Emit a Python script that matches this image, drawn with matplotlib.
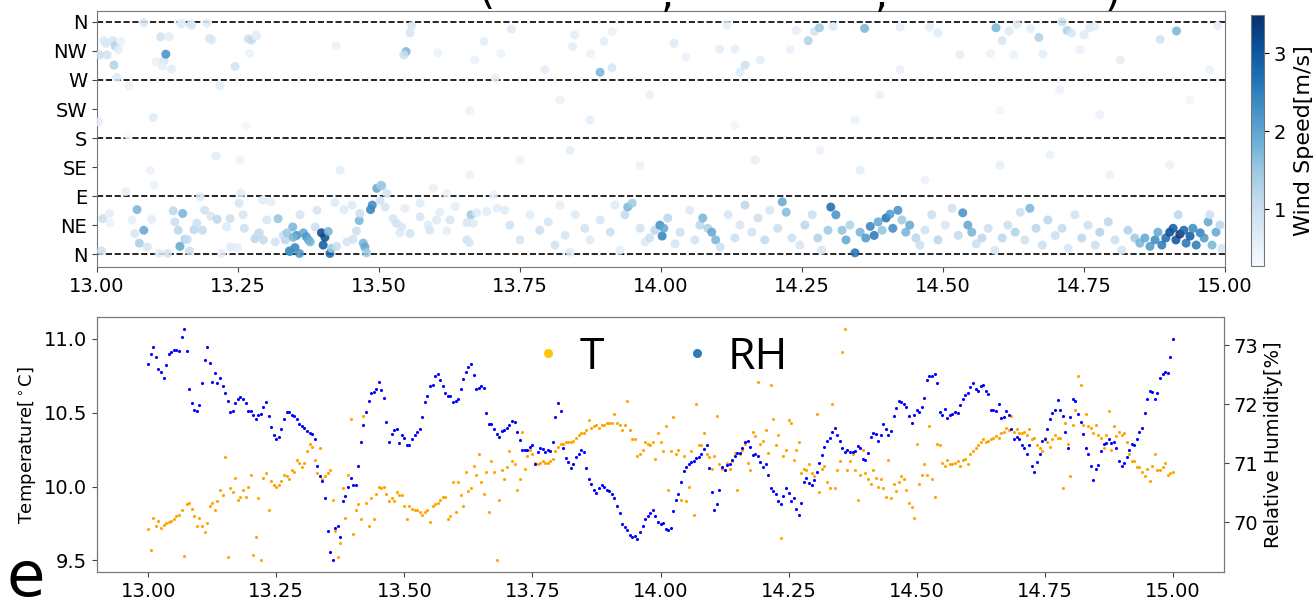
import numpy as np
import matplotlib
matplotlib.use("Agg")
import matplotlib.pyplot as plt
from matplotlib.lines import Line2D
from matplotlib.colors import Normalize
from matplotlib.cm import ScalarMappable
from matplotlib.ticker import FormatStrFormatter

# ---------------- wind data (time [day], direction [deg], speed [m/s]) ----------------
wind_time = [
    13.005, 13.016, 13.018, 13.012, 13.028, 13.032, 13.030, 13.038, 13.035, 13.042,
    13.057, 13.083, 13.100, 13.113, 13.128, 13.105, 13.119, 13.122, 13.116, 13.132,
    13.150, 13.166, 13.195, 13.200, 13.203, 13.218, 13.211, 13.245, 13.268, 13.274,
    13.283, 13.271, 13.264, 13.003, 13.055, 13.094, 13.101, 13.051, 13.010, 13.008,
    13.022, 13.023, 13.062, 13.067, 13.071, 13.075, 13.083, 13.089, 13.097, 13.110,
    13.125, 13.135, 13.138, 13.144, 13.147, 13.152, 13.156, 13.160, 13.164, 13.172,
    13.177, 13.183, 13.187, 13.202, 13.213, 13.221, 13.230, 13.236, 13.237, 13.249,
    13.252, 13.255, 13.261, 13.286, 13.294, 13.301, 13.308, 13.316, 13.321, 13.334,
    13.341, 13.347, 13.351, 13.354, 13.191, 13.259, 13.280, 13.288, 13.295, 13.330,
    13.337, 13.348, 13.360, 13.366, 13.371, 13.375, 13.378, 13.342, 13.359, 13.390,
    13.387, 13.398, 13.404, 13.401, 13.410, 13.413, 13.416, 13.425, 13.422, 13.438,
    13.443, 13.452, 13.454, 13.460, 13.465, 13.466, 13.472, 13.475, 13.478, 13.485,
    13.488, 13.496, 13.503, 13.502, 13.511, 13.514, 13.525, 13.531, 13.537, 13.540,
    13.546, 13.555, 13.573, 13.573, 13.587, 13.590, 13.596, 13.602, 13.608, 13.620,
    13.626, 13.620, 13.635, 13.656, 13.663, 13.667, 13.656, 13.660, 13.673, 13.691,
    13.703, 13.709, 13.149, 13.168, 13.282, 13.424, 13.548, 13.555, 13.558, 13.544,
    13.604, 13.686, 13.716, 13.735, 13.847, 13.899, 13.914, 13.875, 13.843, 14.023,
    14.117, 14.240, 14.272, 14.281, 14.261, 14.305, 14.361, 14.424, 14.476, 14.491,
    14.594, 14.605, 14.617, 14.631, 14.655, 14.670, 14.677, 14.711, 14.720, 14.728,
    14.750, 14.760, 14.769, 14.885, 14.914, 14.987, 14.131, 14.104, 14.584, 14.625,
    14.530, 14.044, 13.670, 13.706, 13.794, 13.892, 13.913, 14.140, 14.149, 14.176,
    14.229, 14.424, 14.743, 14.814, 14.973, 13.661, 13.821, 13.874, 13.980, 14.131,
    14.344, 14.388, 14.601, 14.707, 14.778, 14.938, 13.254, 13.431, 13.505, 13.661,
    13.750, 13.839, 13.963, 14.167, 14.282, 14.353, 14.468, 14.601, 14.690, 14.796, 14.902,
    13.723, 13.732, 13.750, 13.768, 13.785, 13.800, 13.812, 13.821, 13.830, 13.839,
    13.848, 13.865, 13.874, 13.892, 13.910, 13.918, 13.927, 13.936, 13.941, 13.949,
    13.963, 13.972, 13.980, 13.989, 13.998, 14.002, 14.005, 14.012, 14.025, 14.034,
    14.051, 14.060, 14.069, 14.074, 14.083, 14.090, 14.097, 14.105, 14.119, 14.131,
    14.140, 14.149, 14.161, 14.172, 14.184, 14.193, 14.207, 14.215, 14.222, 14.232,
    14.246, 14.255, 14.268, 14.278, 14.285, 14.296, 14.301, 14.310, 14.321, 14.328,
    14.335, 14.344, 14.353, 14.363, 14.371, 14.378, 14.385, 14.392, 14.399, 14.406,
    14.411, 14.420, 14.427, 14.434, 14.441, 14.452, 14.459, 14.468, 14.480, 14.491,
    14.504, 14.516, 14.527, 14.535, 14.544, 14.551, 14.559, 14.569, 14.580, 14.592,
    14.605, 14.615, 14.628, 14.637, 14.645, 14.654, 14.665, 14.676, 14.686, 14.699,
    14.711, 14.722, 14.734, 14.746, 14.757, 14.770, 14.778, 14.793, 14.805, 14.817,
    14.828, 14.840, 14.849, 14.858, 14.867, 14.876, 14.881, 14.888, 14.895, 14.902,
    14.908, 14.913, 14.920, 14.927, 14.931, 14.938, 14.943, 14.949, 14.956, 14.963,
    14.970, 14.977, 14.984, 14.991, 14.995, 14.973, 14.917,
]
wind_dir = [
    309, 327, 309, 331, 331, 323, 293, 317, 274, 330,
    261, 359, 212, 337, 337, 298, 300, 310, 292, 287,
    358, 356, 358, 334, 332, 261, 152, 291, 334, 332,
    338, 311, 199, 205, 185, 130, 107, 97, 55, 5,
    63, 48, 53, 32, 69, 17, 37, 11, 54, 1,
    1, 67, 50, 37, 12, 63, 23, 23, 5, 38,
    48, 89, 37, 59, 54, 1, 42, 55, 11, 10,
    79, 95, 40, 32, 84, 53, 81, 19, 55, 22,
    5, 42, 10, 29, 68, 61, 24, 33, 22, 29,
    33, 26, 61, 33, 27, 22, 19, 4, 1, 68,
    42, 33, 26, 14, 35, 1, 9, 12, 80, 69,
    19, 76, 23, 36, 52, 63, 17, 11, 2, 69,
    76, 102, 107, 83, 73, 94, 55, 48, 33, 42,
    71, 32, 79, 58, 45, 37, 102, 53, 65, 94,
    53, 36, 74, 49, 61, 48, 22, 18, 64, 66,
    92, 71, 357, 355, 340, 323, 314, 343, 354, 309,
    312, 330, 311, 349, 340, 330, 345, 311, 322, 327,
    355, 347, 345, 351, 331, 353, 350, 352, 352, 343,
    351, 331, 346, 356, 350, 336, 310, 360, 347, 343,
    340, 351, 353, 333, 346, 354, 318, 318, 311, 309,
    309, 306, 301, 273, 286, 282, 289, 282, 293, 301,
    317, 286, 317, 301, 286, 223, 239, 208, 247, 200,
    208, 247, 223, 255, 216, 239, 146, 130, 106, 123,
    146, 161, 138, 146, 161, 130, 115, 138, 154, 123, 138,
    68, 45, 22, 61, 37, 50, 14, 76, 29, 3,
    61, 40, 22, 53, 34, 76, 6, 61, 73, 79,
    40, 19, 25, 37, 45, 28, 40, 56, 16, 34,
    68, 22, 45, 56, 40, 34, 22, 11, 61, 25,
    45, 76, 34, 56, 22, 68, 40, 81, 65, 25,
    14, 45, 61, 25, 6, 37, 73, 61, 37, 22,
    45, 2, 34, 25, 43, 29, 50, 37, 56, 62,
    40, 68, 53, 34, 45, 25, 14, 37, 61, 22,
    45, 71, 29, 64, 45, 34, 16, 25, 40, 6,
    25, 45, 34, 65, 22, 71, 40, 14, 53, 29,
    40, 9, 61, 25, 45, 14, 34, 50, 22, 6,
    37, 25, 17, 25, 12, 22, 34, 14, 25, 34,
    40, 22, 31, 37, 17, 28, 40, 14, 33, 25,
    50, 14, 34, 45, 9, 61, 61,
]
wind_speed = [
    1.0, 0.8, 0.9, 0.7, 0.8, 1.3, 1.3, 0.6, 0.7, 0.5,
    0.5, 0.8, 0.7, 0.9, 0.6, 0.5, 0.8, 2.3, 0.6, 0.6,
    0.8, 0.9, 0.6, 0.9, 0.7, 0.6, 0.6, 0.9, 0.9, 1.1,
    0.6, 0.5, 0.4, 0.6, 0.27, 0.5, 0.5, 0.6, 1.0, 1.0,
    0.6, 0.5, 0.6, 0.8, 1.8, 1.4, 2.0, 0.8, 0.6, 0.7,
    0.8, 1.2, 1.0, 1.2, 2.0, 1.8, 1.3, 1.0, 1.0, 1.2,
    1.0, 0.7, 1.1, 0.8, 1.2, 0.6, 0.7, 1.0, 0.7, 0.6,
    0.8, 0.6, 1.0, 1.0, 0.7, 0.8, 0.6, 0.9, 1.6, 1.2,
    2.2, 1.8, 2.5, 2.3, 0.9, 0.8, 1.2, 1.0, 1.1, 1.0,
    1.5, 1.8, 0.8, 2.0, 2.2, 2.0, 1.8, 2.3, 2.2, 0.8,
    1.0, 3.3, 3.2, 3.0, 1.8, 2.8, 1.5, 1.0, 0.7, 0.7,
    0.8, 0.7, 0.9, 1.0, 1.8, 1.0, 1.8, 2.0, 1.5, 2.5,
    2.4, 2.0, 1.3, 0.9, 0.8, 0.8, 0.8, 0.9, 0.7, 0.8,
    0.6, 0.9, 0.7, 0.8, 0.7, 0.8, 0.5, 0.7, 0.6, 0.5,
    0.8, 0.6, 0.6, 0.8, 1.5, 0.7, 0.9, 0.8, 0.7, 0.6,
    0.5, 0.6, 0.6, 0.7, 0.6, 0.5, 1.8, 0.8, 0.8, 1.0,
    0.5, 0.6, 0.5, 0.7, 0.6, 0.6, 0.5, 0.5, 0.6, 0.7,
    0.6, 0.6, 0.9, 1.5, 1.3, 0.7, 1.8, 0.6, 0.6, 0.7,
    1.8, 0.8, 0.7, 0.7, 0.6, 1.3, 0.6, 1.0, 1.3, 0.8,
    0.7, 0.7, 0.6, 0.9, 1.8, 0.6, 0.6, 0.6, 0.5, 0.5,
    0.6, 0.5, 0.5, 0.6, 0.6, 1.8, 0.8, 0.7, 1.0, 0.6,
    0.5, 0.5, 0.5, 0.6, 0.5, 0.5, 0.5, 0.6, 0.5, 0.4,
    0.5, 0.5, 0.4, 0.5, 0.5, 0.4, 0.5, 0.6, 1.5, 0.5,
    0.5, 0.6, 0.5, 0.6, 0.5, 0.6, 0.5, 0.6, 0.5, 0.5, 0.5,
    0.7, 0.9, 0.8, 0.6, 1.0, 0.8, 0.9, 0.6, 0.8, 0.7,
    0.7, 0.9, 0.7, 0.8, 1.0, 0.7, 0.6, 1.1, 1.8, 1.5,
    0.9, 0.7, 1.0, 1.2, 2.3, 2.5, 2.0, 1.2, 0.8, 1.0,
    0.7, 0.9, 1.2, 1.8, 1.3, 2.0, 1.8, 1.0, 0.8, 1.0,
    0.8, 1.2, 0.9, 1.0, 1.1, 0.8, 1.0, 2.0, 1.7, 1.0,
    0.8, 1.2, 1.0, 1.3, 0.8, 1.5, 2.8, 2.3, 1.6, 2.0,
    1.3, 2.7, 1.8, 2.2, 2.5, 2.6, 2.0, 1.6, 2.7, 2.2,
    2.4, 2.3, 1.5, 1.8, 2.0, 1.2, 1.0, 0.9, 1.0, 1.2,
    0.8, 0.9, 1.1, 2.3, 2.0, 1.8, 1.0, 1.2, 1.0, 0.8,
    1.2, 1.0, 1.3, 1.0, 0.9, 1.8, 1.2, 1.0, 1.2, 1.0,
    1.1, 0.8, 0.9, 1.2, 1.0, 1.0, 1.3, 1.2, 1.0, 0.9,
    1.3, 1.5, 1.8, 2.0, 2.2, 2.4, 2.0, 2.6, 2.8, 3.2,
    3.0, 3.1, 3.49, 2.9, 2.7, 3.0, 2.4, 2.6, 2.5, 2.2,
    2.0, 1.8, 2.0, 1.2, 0.8, 1.0, 1.2,
]
assert len(wind_time) == len(wind_dir) == len(wind_speed)

dir_ticks = [0, 45, 90, 135, 180, 225, 270, 315, 360]
dir_labels = ["N", "NE", "E", "SE", "S", "SW", "W", "NW", "N"]
dir_lines = [0, 90, 180, 270, 360]
time_ticks = [13.00, 13.25, 13.50, 13.75, 14.00, 14.25, 14.50, 14.75, 15.00]

# ---------------- T / RH series (sampled every 0.005 day from 13.000) ----------------
series_start = 13.0
series_step = 0.005
rh_values = [
    72.68, 72.85, 72.97, 72.80, 72.60, 72.55, 72.44, 72.66, 72.85, 72.89, 72.92, 72.92, 72.90, 73.13, 73.28, 72.90, 72.25, 72.02, 71.90, 71.88,
    71.99, 72.36, 72.75, 72.96, 72.70, 72.38, 72.53, 72.35, 72.45, 72.30, 72.18, 72.05, 71.86, 71.88, 72.02, 72.08, 72.12, 72.08, 72.02, 71.88,
    71.88, 71.82, 71.75, 71.82, 71.84, 71.95, 72.03, 71.80, 71.62, 71.48, 71.40, 71.45, 71.58, 71.74, 71.87, 71.86, 71.82, 71.80, 71.74, 71.67,
    71.63, 71.60, 71.54, 71.51, 71.50, 71.40, 70.95, 70.78, 70.70, 70.40, 69.85, 69.50, 69.35, 69.90, 69.94, 69.75, 70.35, 70.45, 70.60, 70.75,
    70.62, 70.63, 70.95, 71.35, 71.65, 71.86, 72.05, 72.18, 72.20, 72.25, 72.37, 72.24, 72.10, 71.70, 71.36, 71.50, 71.56, 71.58, 71.34, 71.47,
    71.42, 71.30, 71.31, 71.40, 71.48, 71.52, 71.57, 71.78, 72.03, 72.13, 72.30, 72.32, 72.48, 72.51, 72.40, 72.30, 72.18, 72.14, 72.13, 72.04,
    72.05, 72.08, 72.25, 72.42, 72.55, 72.63, 72.68, 72.50, 72.25, 72.28, 72.31, 72.28, 71.85, 71.66, 71.66, 71.58, 71.49, 71.44, 71.55, 71.56,
    71.60, 71.64, 71.71, 71.70, 71.53, 71.39, 71.23, 71.22, 71.22, 71.28, 71.31, 70.99, 71.18, 71.26, 71.24, 71.19, 71.22, 71.21, 71.36, 71.78,
    72.02, 71.88, 71.25, 71.08, 71.02, 70.92, 70.98, 71.10, 71.16, 71.23, 71.19, 70.92, 70.73, 70.64, 70.55, 70.50, 70.58, 70.62, 70.59, 70.55,
    70.52, 70.47, 70.40, 70.27, 70.16, 69.97, 69.92, 69.86, 69.78, 69.74, 69.76, 69.72, 69.84, 69.93, 70.05, 70.10, 70.15, 70.21, 70.10, 70.00,
    69.96, 69.98, 69.88, 69.86, 69.90, 70.19, 70.37, 70.48, 70.68, 70.87, 70.93, 70.99, 71.02, 71.04, 71.08, 71.11, 71.16, 71.24, 71.30, 70.91,
    70.51, 70.21, 70.30, 70.55, 70.93, 70.89, 70.96, 70.99, 71.06, 71.12, 71.17, 71.17, 71.25, 71.35, 71.38, 71.28, 71.14, 71.15, 71.12, 71.02,
    70.94, 70.98, 70.80, 70.58, 70.53, 70.48, 70.36, 70.30, 70.44, 70.58, 70.50, 70.35, 70.40, 70.22, 70.12, 70.33, 70.68, 70.74, 70.66, 70.63,
    70.72, 70.85, 71.00, 71.14, 71.28, 71.37, 71.42, 71.52, 71.60, 71.48, 71.38, 71.26, 71.18, 71.22, 71.19, 71.18, 71.21, 71.29, 71.26, 71.07,
    71.05, 71.17, 71.45, 71.51, 71.49, 71.38, 71.48, 71.67, 71.58, 71.47, 71.55, 71.80, 71.94, 72.05, 72.04, 72.01, 71.95, 71.80, 71.68, 71.82,
    71.90, 71.86, 71.95, 72.10, 72.40, 72.48, 72.48, 72.51, 72.36, 71.87, 71.82, 71.91, 71.76, 71.82, 71.84, 71.87, 71.85, 71.98, 72.09, 72.16,
    72.18, 72.29, 72.35, 72.25, 72.22, 72.30, 72.32, 72.22, 72.17, 71.90, 71.90, 71.89, 72.01, 71.76, 71.78, 71.88, 71.82, 71.58, 71.41, 71.45,
    71.40, 71.31, 71.25, 71.16, 71.31, 70.95, 70.85, 71.02, 71.15, 71.37, 71.40, 71.57, 71.75, 71.85, 71.90, 72.07, 71.90, 71.80, 71.52, 71.26,
    71.78, 72.08, 72.05, 71.83, 71.69, 71.50, 71.25, 71.15, 70.95, 70.72, 70.90, 70.96, 71.20, 71.32, 71.34, 71.40, 71.34, 71.36, 71.25, 71.04,
    70.95, 71.00, 71.10, 71.22, 71.33, 71.31, 71.40, 71.53, 71.60, 71.85, 72.08, 72.23, 72.20, 72.08, 72.19, 72.44, 72.51, 72.55, 72.52, 72.80,
    73.10,
]
temp_values = [
    9.71, 9.57, 9.79, 9.73, 9.77, 9.72, 9.74, 9.75, 9.76, 9.77, 9.78, 9.80, 9.81, 9.84, 9.53, 9.88, 9.89, 9.85, 9.80, 9.73,
    9.79, 9.73, 9.69, 9.75, 9.87, 9.89, 9.84, 9.90, 9.98, 9.94, 10.20, 9.52, 9.99, 9.96, 10.06, 9.91, 9.93, 9.98, 9.93, 10.00,
    10.08, 9.54, 9.66, 9.92, 9.50, 10.06, 10.09, 9.84, 10.04, 10.01, 10.00, 10.01, 10.04, 10.08, 10.07, 10.05, 10.11, 10.10, 10.18, 10.16,
    10.13, 10.16, 10.24, 10.29, 10.27, 10.18, 10.09, 10.26, 10.05, 10.07, 10.09, 10.11, 9.91, 9.70, 9.52, 9.62, 9.99, 9.79, 10.08, 10.46,
    9.68, 9.84, 9.88, 9.78, 10.48, 9.89, 9.73, 9.92, 9.78, 9.95, 10.00, 9.99, 10.00, 9.95, 9.90, 9.92, 9.90, 9.96, 9.94, 9.94,
    9.87, 9.78, 9.87, 9.85, 9.84, 9.84, 9.83, 9.81, 9.83, 9.84, 9.76, 9.87, 9.88, 9.89, 9.91, 9.93, 9.93, 9.78, 9.80, 10.03,
    9.83, 10.03, 9.94, 9.87, 10.10, 9.97, 9.99, 10.14, 10.08, 10.22, 10.03, 9.95, 10.10, 9.83, 10.17, 10.10, 9.50, 9.91, 10.11, 10.05,
    10.13, 10.24, 10.17, 10.15, 9.98, 10.05, 10.37, 10.12, 10.21, 10.25, 10.22, 10.16, 10.15, 10.16, 10.17, 10.16, 10.16, 10.17, 10.19, 10.24,
    10.27, 10.29, 10.29, 10.30, 10.30, 10.30, 10.31, 10.33, 10.35, 10.36, 10.36, 10.38, 10.45, 10.40, 10.41, 10.42, 10.40, 10.42, 10.42, 10.43,
    10.43, 10.43, 10.49, 10.43, 10.42, 10.38, 10.42, 10.58, 10.38, 10.32, 10.32, 10.21, 10.22, 10.25, 10.30, 10.29, 10.28, 10.30, 10.19, 10.36,
    10.30, 10.24, 10.41, 9.98, 10.24, 10.47, 10.22, 10.25, 9.91, 10.21, 9.90, 10.00, 10.24, 9.81, 10.56, 10.28, 10.28, 10.36, 10.22, 10.20,
    10.12, 10.21, 10.48, 10.15, 10.12, 10.11, 10.16, 10.12, 10.17, 10.23, 9.98, 10.22, 10.25, 10.29, 10.16, 10.11, 10.37, 10.34, 10.71, 10.29,
    10.31, 10.38, 10.23, 10.69, 10.46, 10.28, 10.35, 9.65, 10.21, 10.25, 10.45, 10.43, 10.18, 10.25, 10.30, 10.09, 10.12, 10.11, 10.15, 10.09,
    10.07, 10.49, 9.96, 10.12, 10.14, 10.03, 9.99, 10.56, 9.99, 10.11, 10.17, 10.91, 11.07, 10.11, 10.17, 10.22, 10.11, 9.91, 10.08, 10.25,
    10.09, 10.05, 10.02, 10.11, 10.06, 10.00, 10.05, 9.99, 9.93, 10.18, 9.92, 10.02, 9.97, 10.03, 10.07, 10.05, 9.98, 9.89, 9.86, 9.79,
    10.29, 10.02, 10.08, 10.15, 10.08, 10.41, 10.05, 9.93, 10.29, 10.28, 10.16, 10.14, 10.18, 10.15, 10.15, 10.16, 10.17, 10.14, 10.18, 10.19,
    10.15, 10.22, 10.24, 10.26, 10.28, 10.30, 10.32, 10.30, 10.31, 10.32, 10.33, 10.34, 10.33, 10.36, 10.37, 10.40, 10.38, 10.48, 10.37, 10.39,
    10.36, 10.36, 10.37, 10.35, 10.39, 10.32, 10.33, 10.28, 10.26, 10.24, 10.33, 10.30, 10.27, 10.32, 10.35, 10.33, 10.33, 9.99, 10.43, 10.29,
    10.07, 10.42, 10.52, 10.75, 10.69, 10.42, 10.49, 10.41, 10.40, 10.36, 10.42, 10.35, 10.33, 10.26, 10.35, 10.51, 10.25, 10.41, 10.34, 10.37,
    10.35, 10.36, 10.30, 10.22, 10.17, 10.17, 10.13, 10.13, 10.10, 10.07, 10.12, 10.04, 10.14, 10.22, 10.11, 10.11, 10.13, 10.16, 10.08, 10.09,
    10.10,
]
assert len(rh_values) == len(temp_values)
series_time = series_start + series_step * np.arange(len(rh_values))

legend_labels = ["T", "RH"]
legend_colors = ["#FFC20E", "#2B7BBA"]

# ---------------- figure ----------------
W, H = 1314, 599
fig = plt.figure(figsize=(W / 100, H / 100), dpi=100)

def fr(x0, y0, x1, y1):
    return [x0 / W, 1 - y1 / H, (x1 - x0) / W, (y1 - y0) / H]

spine_col = "#777777"
tick_fs = 14

# --- top: wind direction ---
ax1 = fig.add_axes(fr(97, 11, 1225, 267))
vmin, vmax = min(wind_speed), max(wind_speed)
ax1.scatter(wind_time, wind_dir, c=wind_speed, cmap="Blues", vmin=vmin, vmax=vmax,
            s=42, alpha=0.85, edgecolors="none", zorder=3)
for d in dir_lines:
    ax1.axhline(d, color="black", ls="--", lw=1.2, zorder=2)
ax1.set_xlim(13.0, 15.0)
ax1.set_ylim(-20, 377)
ax1.set_yticks(dir_ticks)
ax1.set_yticklabels(dir_labels)
ax1.set_xticks(time_ticks)
ax1.xaxis.set_major_formatter(FormatStrFormatter("%.2f"))

cax = fig.add_axes(fr(1251, 15, 1264, 266))
sm = ScalarMappable(norm=Normalize(vmin=vmin, vmax=vmax), cmap="Blues")
cb = fig.colorbar(sm, cax=cax)
cb.set_ticks([1, 2, 3])
cb.set_label("Wind Speed[m/s]", fontsize=16, labelpad=6)
cb.ax.tick_params(labelsize=tick_fs)
cb.outline.set_edgecolor(spine_col)

# fragments of the title, which lies mostly above the top edge of the picture
for ch, xp, yb in [("(", 486, 4), (",", 667, 7), (",", 881, 7), (")", 1113, 6)]:
    fig.text(xp / W, 1 - yb / H, ch, fontsize=30, ha="center", va="baseline")

# --- bottom: temperature & humidity ---
ax2 = fig.add_axes(fr(97, 317, 1224, 572))
ax2.scatter(series_time, temp_values, s=5, color="orange", linewidths=0)
ax2.set_ylabel("Temperature[$^\\circ$C]", fontsize=13)
ax2.set_yticks([9.5, 10.0, 10.5, 11.0])
ax2.set_xticks(time_ticks)
ax2.xaxis.set_major_formatter(FormatStrFormatter("%.2f"))

ax3 = ax2.twinx()
ax3.scatter(series_time, rh_values, s=5, color="blue", linewidths=0)
ax3.set_ylabel("Relative Humidity[%]", fontsize=14)
ax3.set_yticks([70, 71, 72, 73])

handles = [Line2D([0], [0], marker="o", ls="", markersize=6.5,
                  markerfacecolor=c, markeredgecolor="none") for c in legend_colors]
ax3.legend(handles, legend_labels, ncol=2, frameon=False, loc="center",
           bbox_to_anchor=(0.497, 0.84), prop={"family": "Open Sans", "size": 32},
           handletextpad=0.2, columnspacing=1.6, handlelength=1.0)

for ax in (ax1, ax2, ax3):
    for sp in ax.spines.values():
        sp.set_edgecolor(spine_col)
    ax.tick_params(labelsize=tick_fs, color="#444444")

fig.text(6 / W, 3 / H, "e", fontsize=45, ha="left", va="baseline")

fig.savefig("out.png", dpi=100)
